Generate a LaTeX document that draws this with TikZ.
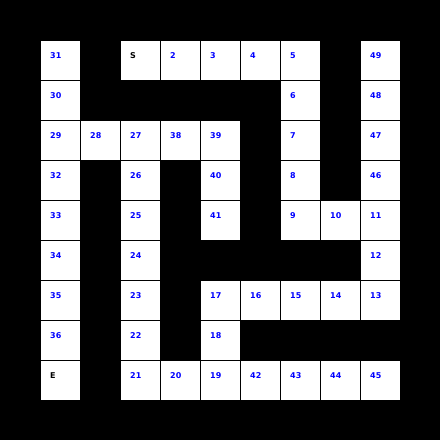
\documentclass[tikz,border=0pt]{standalone}
\usepackage{fontspec}
\setmainfont{DejaVu Sans}
\definecolor{numblue}{RGB}{0,0,255}
\tikzset{
  cell/.style={draw=black, fill=white, line width=1pt, minimum width=40pt, minimum height=40pt, inner sep=0pt, anchor=north west},
  lbl/.style={anchor=west, inner sep=0pt, font=\bfseries\fontsize{8}{8}\selectfont, text=numblue},
  lblk/.style={lbl, text=black}
}
\begin{document}
\begin{tikzpicture}[x=1pt,y=-1pt]
\fill[black] (0,0) rectangle (440,440);
\useasboundingbox (0,0) rectangle (440,440);
\foreach \c/\r/\t/\s in {
0/0/31/lbl, 2/0/S/lblk, 3/0/2/lbl, 4/0/3/lbl, 5/0/4/lbl, 6/0/5/lbl, 8/0/49/lbl,
0/1/30/lbl, 6/1/6/lbl, 8/1/48/lbl,
0/2/29/lbl, 1/2/28/lbl, 2/2/27/lbl, 3/2/38/lbl, 4/2/39/lbl, 6/2/7/lbl, 8/2/47/lbl,
0/3/32/lbl, 2/3/26/lbl, 4/3/40/lbl, 6/3/8/lbl, 8/3/46/lbl,
0/4/33/lbl, 2/4/25/lbl, 4/4/41/lbl, 6/4/9/lbl, 7/4/10/lbl, 8/4/11/lbl,
0/5/34/lbl, 2/5/24/lbl, 8/5/12/lbl,
0/6/35/lbl, 2/6/23/lbl, 4/6/17/lbl, 5/6/16/lbl, 6/6/15/lbl, 7/6/14/lbl, 8/6/13/lbl,
0/7/36/lbl, 2/7/22/lbl, 4/7/18/lbl,
0/8/E/lblk, 2/8/21/lbl, 3/8/20/lbl, 4/8/19/lbl, 5/8/42/lbl, 6/8/43/lbl, 7/8/44/lbl, 8/8/45/lbl}
{
  \node[cell] (c\c-\r) at ({40+40*\c},{40+40*\r}) {};
  \node[\s] (t\c-\r) at ({50+40*\c},{56+40*\r}) {\t};
}
\end{tikzpicture}
\end{document}
